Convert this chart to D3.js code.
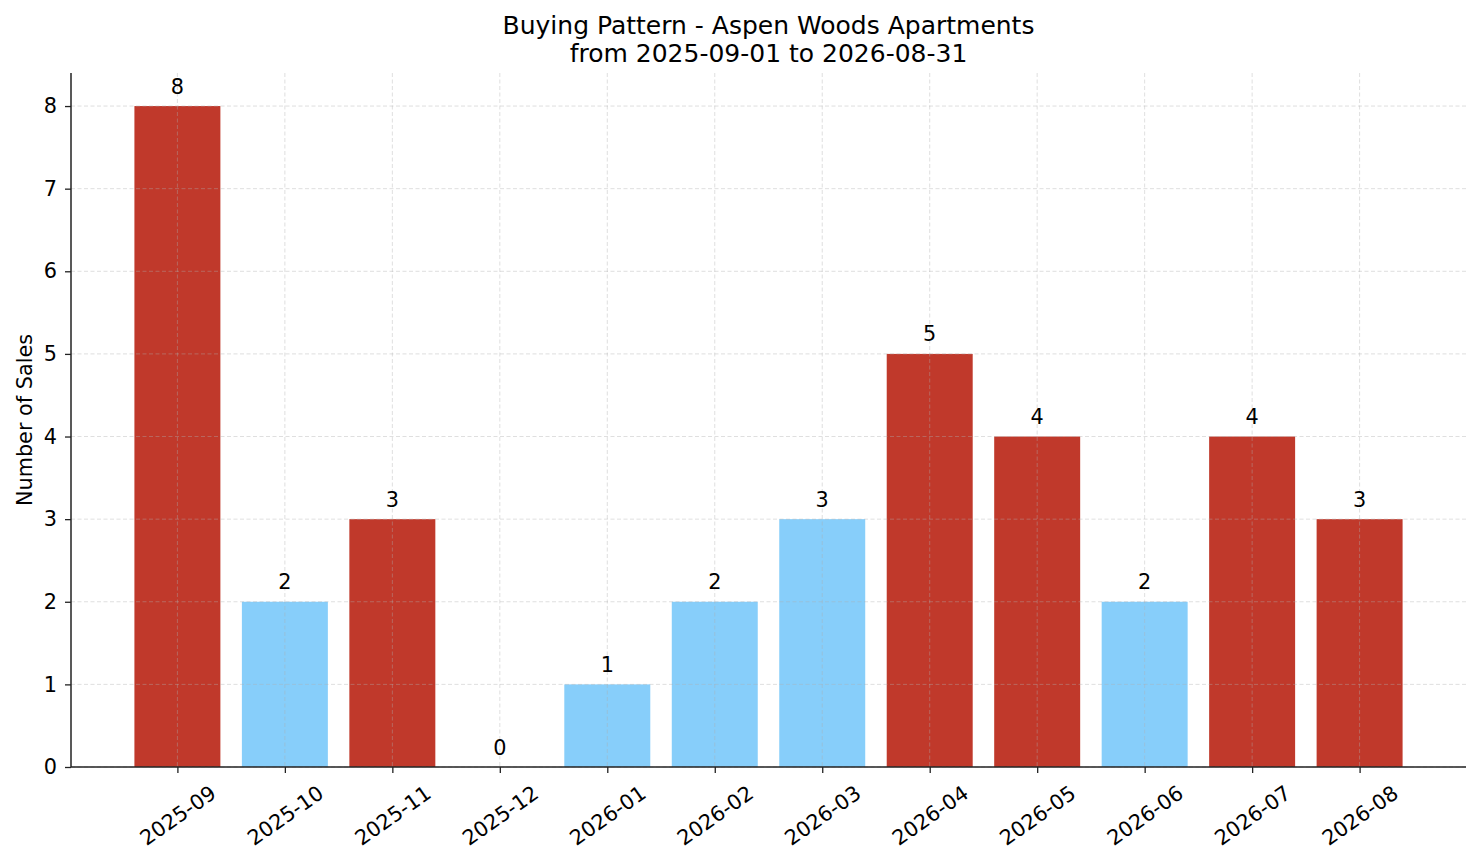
<!DOCTYPE html>
<html><head><meta charset="utf-8">
<script src="https://cdn.jsdelivr.net/npm/d3@7"></script>
<style>
html,body{margin:0;padding:0;background:#fff;}
svg{display:block;font-family:"DejaVu Sans",sans-serif;}
</style></head>
<body>
<svg id="chart" width="1481" height="863"></svg>
<script>
const months = ["2025-09","2025-10","2025-11","2025-12","2026-01","2026-02","2026-03","2026-04","2026-05","2026-06","2026-07","2026-08"];
const sales = [8,2,3,0,1,2,3,5,4,2,4,3];
const highlighted = [true,false,true,false,false,false,false,true,true,false,true,true];
const yTicks = [0,1,2,3,4,5,6,7,8];
const titleLines = ["Buying Pattern - Aspen Woods Apartments","from 2025-09-01 to 2026-08-31"];
const yLabel = "Number of Sales";

const svg = d3.select("#chart");
const L = 71, R = 1466, T = 73, B = 767;
const FS = 20.8;
const x = d3.scaleLinear().domain([-0.99, 11.99]).range([L, R]);
const y = d3.scaleLinear().domain([0, 8.4]).range([B, T]);
const bw = x(0.4) - x(-0.4);
const RED = "#c0392b", BLUE = "#87cefa";

// bars
svg.append("g").selectAll("rect").data(sales).join("rect")
  .attr("x", (d,i) => x(i) - bw/2)
  .attr("y", d => y(d))
  .attr("width", bw)
  .attr("height", d => y(0) - y(d))
  .attr("fill", (d,i) => highlighted[i] ? RED : BLUE);

// grid (drawn above bars, faint)
const grid = svg.append("g").attr("stroke", "#b0b0b0").attr("stroke-opacity", 0.5)
  .attr("stroke-width", 0.8).attr("stroke-dasharray", "4,2.5");
grid.selectAll(".gy").data(yTicks).join("line")
  .attr("x1", L).attr("x2", R).attr("y1", d => y(d)).attr("y2", d => y(d));
grid.selectAll(".gx").data(months).join("line")
  .attr("y1", T).attr("y2", B).attr("x1", (d,i) => x(i)).attr("x2", (d,i) => x(i));

// axes
const yAxis = d3.axisLeft(y).tickValues(yTicks).tickSize(6).tickPadding(8).tickFormat(d3.format("d"));
const gy = svg.append("g").attr("transform", `translate(${L},0)`).call(yAxis);
gy.select(".domain").remove();
gy.selectAll(".tick line").attr("stroke", "#222").attr("stroke-width", 1.3);
gy.selectAll(".tick text").attr("font-size", FS).attr("fill", "#000").attr("font-family", "DejaVu Sans");

const xAxis = d3.axisBottom(x).tickValues(d3.range(months.length)).tickSize(6).tickFormat(i => months[i]);
const gx = svg.append("g").attr("transform", `translate(0,${B})`).call(xAxis);
gx.select(".domain").remove();
gx.selectAll(".tick line").attr("stroke", "#222").attr("stroke-width", 1.3);
const ang = 35 * Math.PI / 180;
gx.selectAll(".tick text")
  .attr("font-size", FS).attr("fill", "#000").attr("font-family", "DejaVu Sans")
  .attr("y", 0).attr("dy", "0.35em").attr("text-anchor", "middle")
  .each(function() {
    const w = this.getComputedTextLength();
    const h = FS * 1.0;
    const bh = w * Math.sin(ang) + h * Math.cos(ang);
    d3.select(this).attr("transform", `translate(0,${6 + 9 + bh/2}) rotate(-35)`);
  });

// spines
svg.append("line").attr("x1", L).attr("x2", L).attr("y1", T).attr("y2", B).attr("stroke", "#222").attr("stroke-width", 1.5);
svg.append("line").attr("x1", L).attr("x2", R).attr("y1", B).attr("y2", B).attr("stroke", "#222").attr("stroke-width", 1.5);

// value labels
svg.append("g").selectAll("text").data(sales).join("text")
  .attr("x", (d,i) => x(i)).attr("y", d => y(d) - 12.5)
  .attr("text-anchor", "middle").attr("font-size", FS).attr("fill", "#000")
  .text(d => d);

// title
svg.append("g").selectAll("text").data(titleLines).join("text")
  .attr("x", (L + R) / 2).attr("y", (d,i) => 34 + i * 28)
  .attr("text-anchor", "middle").attr("font-size", 25).attr("fill", "#000")
  .text(d => d);

// y label
svg.append("text").attr("transform", `translate(31.5,${(T + B) / 2}) rotate(-90)`)
  .attr("text-anchor", "middle").attr("font-size", FS).attr("fill", "#000").text(yLabel);
</script>
</body></html>
